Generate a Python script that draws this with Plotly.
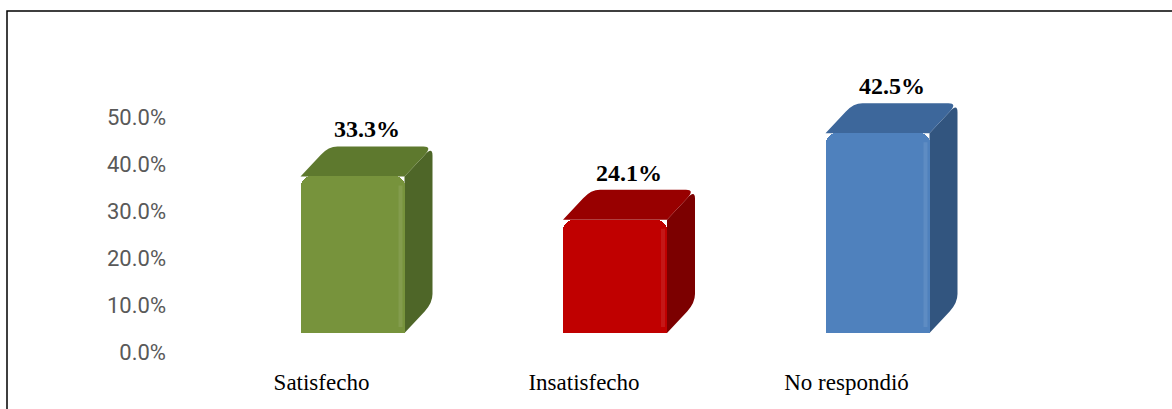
import plotly.graph_objects as go

# Survey results
categories = ["Satisfecho", "Insatisfecho", "No respondió"]
shares = [0.333, 0.241, 0.425]
tick_values = [0.0, 0.1, 0.2, 0.3, 0.4, 0.5]

front_colors = ["#77933C", "#C00000", "#4F81BD"]
top_colors = ["#5E792E", "#980000", "#3D679B"]
side_colors = ["#4E6628", "#7C0000", "#32557F"]

W, H = 1172, 409
ML, MR, MT, MB = 170, 0, 20, 49
px_per_unit_x = 262.5          # pixels between category centres
px_per_unit_y = 470.0          # pixels per 100 %
plot_w = W - ML - MR
plot_h = H - MT - MB

x_min = -(352.5 - ML) / px_per_unit_x
x_max = x_min + plot_w / px_per_unit_x
y_min = -(H - MB - 333) / px_per_unit_y
y_max = y_min + plot_h / px_per_unit_y

bar_w = 104 / px_per_unit_x
depth_x = 28 / px_per_unit_x
depth_y = 30 / px_per_unit_y
rad_x = 9 / px_per_unit_x
rad_y = 9 / px_per_unit_y
t = 0.28                       # share of the depth edge used by a rounded corner

xs = list(range(len(categories)))


def pt(x, y):
    return f"{x:.5f},{y:.5f}"


fig = go.Figure()

for i, v in enumerate(shares):
    x0, x1 = xs[i] - bar_w / 2, xs[i] + bar_w / 2
    bx0, bx1, by = x0 + depth_x, x1 + depth_x, v + depth_y
    # side face (also fills the back outline of the block)
    side = (
        f"M {pt(x1, v)} "
        f"L {pt(bx1 - t * depth_x, by - t * depth_y)} "
        f"Q {pt(bx1, by)} {pt(bx1, by - rad_y)} "
        f"L {pt(bx1, depth_y + rad_y)} "
        f"Q {pt(bx1, depth_y)} {pt(bx1 - t * depth_x, depth_y - t * depth_y)} "
        f"L {pt(x1, 0)} Z"
    )
    fig.add_shape(type="path", path=side, xref="x", yref="y",
                  fillcolor=side_colors[i], line=dict(width=0), layer="below")
    # top face with rounded back corners
    top = (
        f"M {pt(x0, v)} "
        f"L {pt(bx0 - t * depth_x, by - t * depth_y)} "
        f"Q {pt(bx0, by)} {pt(bx0 + rad_x, by)} "
        f"L {pt(bx1 - rad_x, by)} "
        f"Q {pt(bx1, by)} {pt(bx1 - t * depth_x, by - t * depth_y)} "
        f"L {pt(x1, v)} Z"
    )
    fig.add_shape(type="path", path=top, xref="x", yref="y",
                  fillcolor=top_colors[i], line=dict(width=0), layer="below")

# front faces
fig.add_trace(go.Bar(
    x=xs, y=shares, width=bar_w,
    marker=dict(color=front_colors, line=dict(width=0), cornerradius=10),
    hoverinfo="skip", showlegend=False,
))

# faint highlight along the right bevel of each front face
for i, v in enumerate(shares):
    x1 = xs[i] + bar_w / 2
    fig.add_trace(go.Scatter(
        x=[x1 - 4 / px_per_unit_x, x1 - 4 / px_per_unit_x],
        y=[v - rad_y, 6 / px_per_unit_y],
        mode="lines", line=dict(color="rgba(255,255,255,0.09)", width=4),
        hoverinfo="skip", showlegend=False,
    ))

# value labels above each block
for i, v in enumerate(shares):
    fig.add_annotation(
        x=xs[i] + depth_x / 2, y=v + depth_y, text=f"<b>{v:.1%}</b>",
        showarrow=False, yanchor="bottom", yshift=2,
        font=dict(family="Liberation Serif", size=24, color="#000000"),
    )

# outer frame
fig.add_shape(
    type="rect", xref="paper", yref="paper",
    x0=(7 - ML) / plot_w, x1=(W + 10 - ML) / plot_w,
    y0=(H - MB - (H + 10)) / plot_h, y1=(H - MB - 11) / plot_h,
    line=dict(color="#000000", width=1.5), fillcolor="rgba(0,0,0,0)", layer="above",
)

fig.update_layout(
    width=W, height=H,
    margin=dict(l=ML, r=MR, t=MT, b=MB),
    paper_bgcolor="#FFFFFF", plot_bgcolor="rgba(0,0,0,0)",
    bargap=0,
    xaxis=dict(
        range=[x_min, x_max], tickvals=xs, ticktext=categories,
        showgrid=False, zeroline=False, showline=False, ticks="",
        tickfont=dict(family="Liberation Serif", size=23, color="#000000"),
        ticklabelshift=-31, ticklabelstandoff=6,
    ),
    yaxis=dict(
        range=[y_min, y_max], tickvals=tick_values, tickformat=".1%",
        showgrid=False, zeroline=False, showline=False, ticks="",
        tickfont=dict(family="Roboto", size=22, color="#595959"),
        ticklabelshift=19, ticklabelstandoff=3,
    ),
)

fig.write_html("out.html")
